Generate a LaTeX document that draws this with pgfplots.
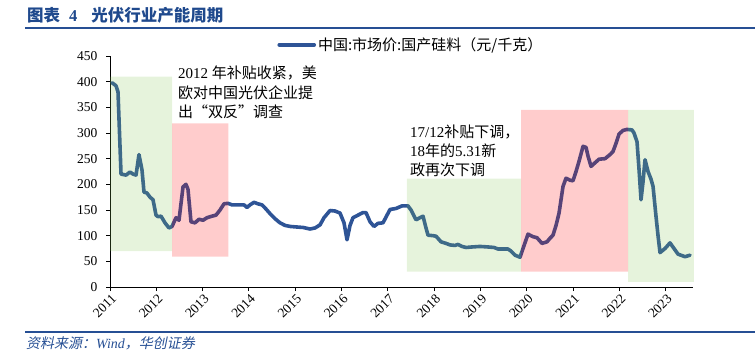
\documentclass[border=0pt]{standalone}
\usepackage{pgfplots}
\pgfplotsset{compat=1.18}
\usepackage{fontspec}
\setmainfont{Liberation Serif}
\newfontfamily\cjk{Noto Sans CJK SC}
\newfontfamily\cjkit[FakeSlant=0.2]{Noto Sans CJK SC}
\definecolor{lineblue}{RGB}{46,84,150}
\definecolor{gbase}{RGB}{130,195,80}
\definecolor{rbase}{RGB}{255,0,0}
\definecolor{rulecol}{RGB}{38,79,148}
\definecolor{titleblue}{RGB}{31,73,141}
\begin{document}
\begin{tikzpicture}[x=1bp,y=1bp]
\useasboundingbox (0,0) rectangle (755,356);
\begin{axis}[
 at={(110bp,69bp)}, anchor=south west,
 scale only axis, width=582.7bp, height=231bp,
 xmin=2011, xmax=2023.585, ymin=0, ymax=450,
 axis lines*=left, axis line style={black, line width=0.9bp},
 clip=false,
 xtick={2011,...,2023}, ytick={0,50,...,450},
 tick align=outside, major tick length=4bp, tick style={black, line width=0.8bp},
 /pgf/number format/assume math mode=true,
 x tick label style={/pgf/number format/1000 sep={}, rotate=45, anchor=north east, inner sep=1bp, yshift=-1bp, font=\fontsize{13.5bp}{15bp}\selectfont},
 y tick label style={xshift=-5bp, font=\fontsize{13.5bp}{15bp}\selectfont},
 legend style={at={(0.287,1.048)}, anchor=west, draw=none, fill=none, inner sep=0pt,
   font=\cjk\fontsize{15bp}{16bp}\selectfont, cells={anchor=west}},
 legend image code/.code={\draw[#1] (0bp,0bp) -- (35bp,0bp);},
]
\addplot[lineblue, line width=3.6bp, line join=round, line cap=round] table {
x y
2011.043 398
2011.130 392
2011.173 380
2011.238 220
2011.346 218
2011.432 224
2011.497 220
2011.562 218
2011.626 258
2011.691 228
2011.734 185
2011.799 183
2011.864 175
2011.929 170
2011.994 140
2012.037 137
2012.102 138
2012.188 125
2012.274 115
2012.339 118
2012.426 135
2012.490 130
2012.577 195
2012.641 200
2012.685 190
2012.749 127
2012.836 125
2012.922 132
2013.009 130
2013.095 135
2013.203 138
2013.289 140
2013.376 150
2013.462 162
2013.549 163
2013.635 160
2013.765 160
2013.894 160
2013.959 155
2014.024 160
2014.110 165
2014.197 162
2014.283 160
2014.369 152
2014.456 143
2014.564 133
2014.672 125
2014.780 120
2014.888 118
2015.017 117
2015.168 116
2015.320 113
2015.428 115
2015.536 121
2015.622 135
2015.687 142
2015.752 149
2015.860 148
2015.968 144
2016.054 125
2016.119 92
2016.184 120
2016.248 135
2016.356 140
2016.464 145
2016.529 145
2016.616 127
2016.702 118
2016.788 124
2016.896 125
2016.983 140
2017.048 151
2017.177 153
2017.307 158
2017.436 158
2017.501 150
2017.609 131
2017.695 135
2017.760 138
2017.825 115
2017.868 101
2017.976 100
2018.041 99
2018.149 88
2018.257 85
2018.343 82
2018.451 81
2018.516 83
2018.603 79
2018.689 77
2018.819 78
2018.991 79
2019.164 78
2019.294 77
2019.380 74
2019.488 74
2019.596 74
2019.661 70
2019.747 62
2019.855 58
2019.920 75
2020.028 103
2020.136 98
2020.222 96
2020.330 85
2020.438 88
2020.503 95
2020.568 101
2020.633 120
2020.698 144
2020.784 196
2020.849 212
2020.935 208
2021.000 207
2021.065 225
2021.130 245
2021.216 274
2021.281 272
2021.324 255
2021.389 235
2021.475 242
2021.562 249
2021.691 250
2021.799 258
2021.864 264
2021.929 280
2021.994 298
2022.080 305
2022.166 307
2022.274 306
2022.317 300
2022.382 283
2022.425 230
2022.469 170
2022.512 205
2022.555 248
2022.620 225
2022.685 210
2022.728 196
2022.793 137
2022.836 100
2022.879 67
2022.987 75
2023.095 86
2023.181 75
2023.268 64
2023.419 59
2023.527 62
};
\addlegendentry{中国:市场价:国产硅料（元/千克）}
\addplot[draw=none, fill=gbase, fill opacity=0.2, forget plot] coordinates {(2011,70) (2012.34,70) (2012.34,410) (2011,410) (2011,70)};
\addplot[draw=none, fill=rbase, fill opacity=0.2, forget plot] coordinates {(2012.34,59) (2013.555,59) (2013.555,319) (2012.34,319) (2012.34,59)};
\addplot[draw=none, fill=gbase, fill opacity=0.2, forget plot] coordinates {(2017.41,30) (2019.88,30) (2019.88,211) (2017.41,211) (2017.41,30)};
\addplot[draw=none, fill=rbase, fill opacity=0.2, forget plot] coordinates {(2019.88,30) (2022.19,30) (2022.19,345) (2019.88,345) (2019.88,30)};
\addplot[draw=none, fill=gbase, fill opacity=0.2, forget plot] coordinates {(2022.19,10) (2023.61,10) (2023.61,345) (2022.19,345) (2022.19,10)};
\end{axis}
\node[anchor=north west, align=left, inner sep=0pt, font=\fontsize{15bp}{19.3bp}\selectfont] at (178,290)
 {2012 {\cjk 年补贴收紧，美}\\{\cjk 欧对中国光伏企业提}\\{\cjk 出“双反”调查}};
\node[anchor=north west, align=left, inner sep=0pt, font=\fontsize{15bp}{18.7bp}\selectfont] at (410,231)
 {17/12{\cjk 补贴下调，}\\18{\cjk 年的}5.31{\cjk 新}\\{\cjk 政再次下调}};
\node[anchor=west, inner sep=0pt, text=titleblue, font=\fontsize{16.5bp}{18bp}\selectfont\bfseries] at (27,341)
 {{\cjk 图表}\hspace{9bp}4\hspace{14bp}{\cjk 光伏行业产能周期}};
\draw[rulecol, line width=2bp] (25,327.7) -- (755,327.7);
\draw[rulecol, line width=2bp] (25,23.7) -- (755,23.7);
\node[anchor=west, inner sep=0pt, text=rulecol, font=\fontsize{14bp}{15bp}\selectfont] at (26,12.5)
 {{\cjkit 资料来源：}{\itshape Wind}{\cjkit ，华创证券}};
\end{tikzpicture}
\end{document}
